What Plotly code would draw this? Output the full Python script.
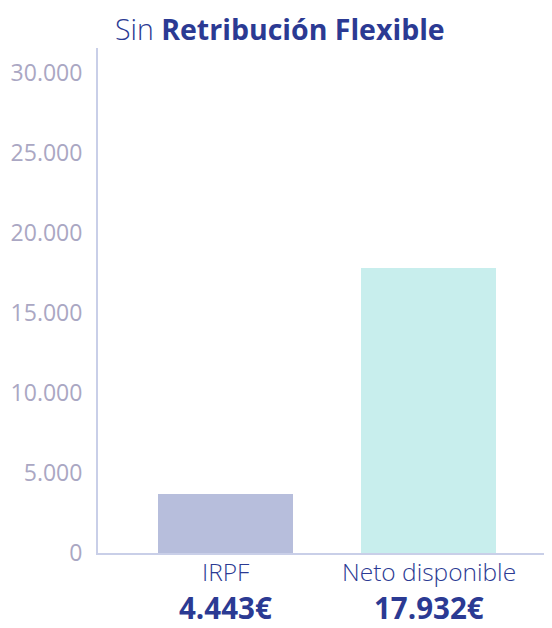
import plotly.graph_objects as go

categories = ["IRPF", "Neto disponible"]
bar_values = [3700, 17800]
value_labels = ["4.443€", "17.932€"]
bar_colors = ["#b7bedc", "#c8eeed"]
y_ticks = [0, 5000, 10000, 15000, 20000, 25000, 30000]
title_light = "Sin"
title_bold = "Retribución Flexible"

# page has an 8px body margin: figure is placed at (8, 8)
OFF = 8
W, H = 552 - OFF, 628 - OFF
ML, MR, MT = 98 - OFF, 0, 48 - OFF
MB = H - (553 - OFF)
PH = H - MT - MB
PW = W - ML - MR

FONT = "Open Sans"
DARK = "#2b3a93"

fig = go.Figure()
fig.add_trace(go.Bar(
    x=categories, y=bar_values,
    marker=dict(color=bar_colors, line=dict(width=0)),
    width=0.665, hoverinfo="skip",
))

def py(page_y):
    return (H - MB - (page_y - OFF)) / PH

def px(page_x):
    return (page_x - OFF - ML) / PW

annotations = []
for cat, lab in zip(categories, value_labels):
    annotations.append(dict(
        x=cat, xref="x", y=py(571), yref="paper", yanchor="middle",
        text=cat, showarrow=False, borderpad=0,
        font=dict(family=FONT, size=24.5, color=DARK, weight=300),
    ))
    annotations.append(dict(
        x=cat, xref="x", y=py(607), yref="paper", yanchor="middle",
        text="<b>" + lab + "</b>", showarrow=False, borderpad=0,
        font=dict(family=FONT, size=29.5, color=DARK),
    ))

annotations.append(dict(
    x=px(113), xref="paper", xanchor="left",
    y=py(29), yref="paper", yanchor="middle",
    text='<span style="font-weight:300">' + title_light + '</span> <b>' + title_bold + '</b>',
    showarrow=False,
    font=dict(family=FONT, size=28.5, color=DARK),
))

fig.update_layout(
    width=W, height=H,
    margin=dict(l=ML, r=MR, t=MT, b=MB, pad=0, autoexpand=False),
    paper_bgcolor="white", plot_bgcolor="white",
    showlegend=False,
    separators=",.",
    bargap=0,
    annotations=annotations,
    xaxis=dict(
        range=[-0.628, 1.608], showticklabels=False, showgrid=False,
        zeroline=False, showline=True, linecolor="#c9cfe8", linewidth=2,
        fixedrange=True, automargin=False,
    ),
    yaxis=dict(
        range=[0, 31560], tickvals=y_ticks, tickformat=",d",
        showgrid=False, zeroline=False, showline=True,
        linecolor="#c9cfe8", linewidth=2, ticks="",
        ticklabelstandoff=9,
        tickfont=dict(family=FONT, size=23, color="#aaa7c3"),
        fixedrange=True, automargin=False,
    ),
)

fig.write_html("out.html", config={"displayModeBar": False})
